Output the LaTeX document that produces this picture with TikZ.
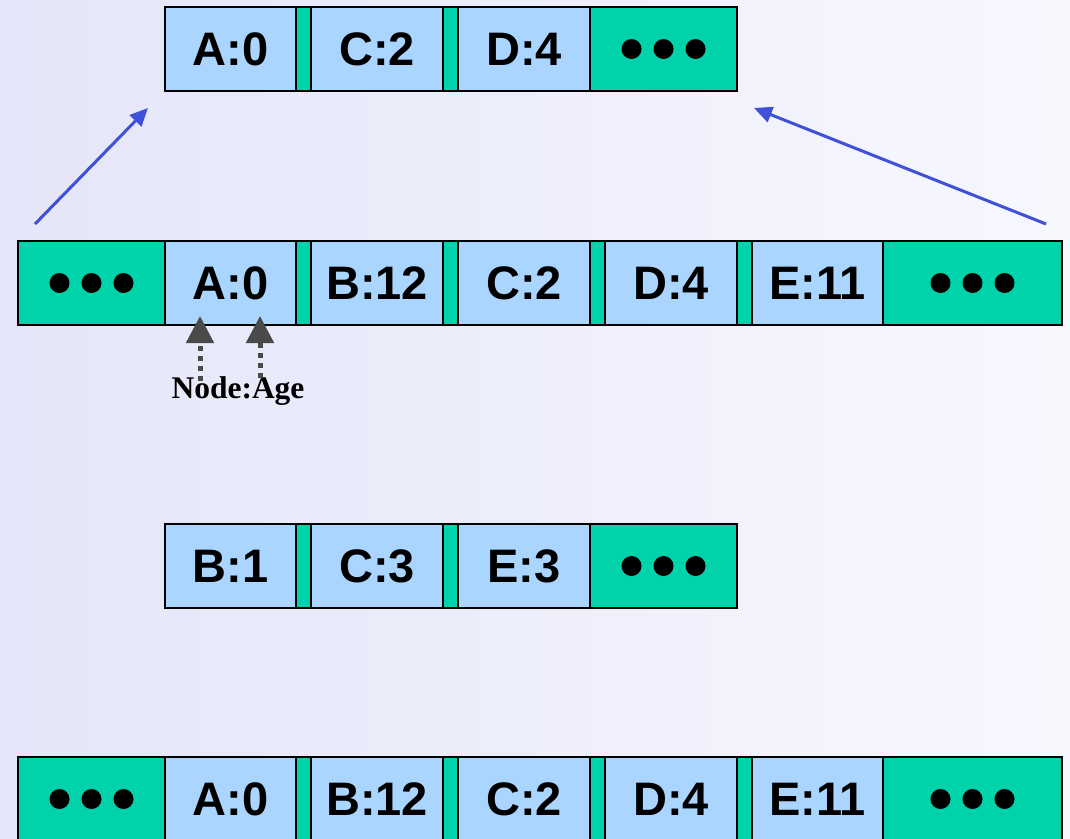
\documentclass[tikz,border=0pt]{standalone}
\usepackage{fontspec}
\newfontfamily\lsans{Liberation Sans}
\newfontfamily\lserif{Liberation Serif}
\usetikzlibrary{arrows.meta}
\definecolor{cellblue}{HTML}{AAD5FF}
\definecolor{tealc}{HTML}{00D3AA}
\definecolor{arrowblue}{HTML}{4050D8}
\definecolor{darkg}{HTML}{4A4A4A}
\definecolor{bgleft}{HTML}{E4E5F8}
\definecolor{bgright}{HTML}{F7F8FE}
\tikzset{
  cellbase/.style={draw=black, line width=2.5pt, minimum height=84pt, inner sep=0pt, outer sep=0pt},
  cell/.style={cellbase, fill=cellblue, font=\lsans\bfseries\fontsize{47}{53}\selectfont},
  sepcell/.style={cellbase, fill=tealc, minimum width=15pt},
  dotcell/.style={cellbase, fill=tealc},
  bluearrow/.style={draw=arrowblue, line width=3pt, -{Triangle[length=18pt,width=16pt]}},
  gagearrow/.style={draw=darkg, line width=5pt, dash pattern=on 5pt off 5pt, -{Triangle[length=27pt,width=27pt]}},
  lbl/.style={font=\lserif\bfseries\fontsize{31.5}{35}\selectfont, inner sep=0pt}
}
\newcommand{\threedots}[1]{%
  \fill ([xshift=-32pt]#1.center) circle (10pt);
  \fill (#1.center) circle (10pt);
  \fill ([xshift=32pt]#1.center) circle (10pt);}
\begin{document}
\begin{tikzpicture}[x=1pt,y=-1pt]
\useasboundingbox (0,0) rectangle (1070,838);
\shade[left color=bgleft, right color=bgright] (0,0) rectangle (1070,838);
\begin{scope}
\clip (0,0) rectangle (1070,838);
% Row 1
\node[cell, minimum width=131pt] (r1a) at (230.5,49) {A:0};
\node[sepcell] (r1s1) at (303.5,49) {};
\node[cell, minimum width=132pt] (r1b) at (377,49) {C:2};
\node[sepcell] (r1s2) at (450.5,49) {};
\node[cell, minimum width=132pt] (r1c) at (524,49) {D:4};
\node[dotcell, minimum width=147pt] (r1d) at (663.5,49) {};
\threedots{r1d}
% Row 2
\node[dotcell, minimum width=147pt] (r2l) at (91.5,283) {};
\threedots{r2l}
\node[cell, minimum width=131pt] (r2a) at (230.5,283) {A:0};
\node[sepcell] (r2s1) at (303.5,283) {};
\node[cell, minimum width=132pt] (r2b) at (377,283) {B:12};
\node[sepcell] (r2s2) at (450.5,283) {};
\node[cell, minimum width=132pt] (r2c) at (524,283) {C:2};
\node[sepcell] (r2s3) at (597.5,283) {};
\node[cell, minimum width=132pt] (r2d) at (671,283) {D:4};
\node[sepcell] (r2s4) at (744.5,283) {};
\node[cell, minimum width=131pt] (r2e) at (817.5,283) {E:11};
\node[dotcell, minimum width=179pt] (r2r) at (972.5,283) {};
\threedots{r2r}
% Row 3
\node[cell, minimum width=131pt] (r3a) at (230.5,566) {B:1};
\node[sepcell] (r3s1) at (303.5,566) {};
\node[cell, minimum width=132pt] (r3b) at (377,566) {C:3};
\node[sepcell] (r3s2) at (450.5,566) {};
\node[cell, minimum width=132pt] (r3c) at (524,566) {E:3};
\node[dotcell, minimum width=147pt] (r3d) at (663.5,566) {};
\threedots{r3d}
% Row 4
\node[dotcell, minimum width=147pt] (r4l) at (91.5,799) {};
\threedots{r4l}
\node[cell, minimum width=131pt] (r4a) at (230.5,799) {A:0};
\node[sepcell] (r4s1) at (303.5,799) {};
\node[cell, minimum width=132pt] (r4b) at (377,799) {B:12};
\node[sepcell] (r4s2) at (450.5,799) {};
\node[cell, minimum width=132pt] (r4c) at (524,799) {C:2};
\node[sepcell] (r4s3) at (597.5,799) {};
\node[cell, minimum width=132pt] (r4d) at (671,799) {D:4};
\node[sepcell] (r4s4) at (744.5,799) {};
\node[cell, minimum width=131pt] (r4e) at (817.5,799) {E:11};
\node[dotcell, minimum width=179pt] (r4r) at (972.5,799) {};
\threedots{r4r}
\end{scope}
% Blue arrows
\coordinate (la0) at (35,224);
\coordinate (la1) at (148,108);
\coordinate (ra0) at (1046,224);
\coordinate (ra1) at (754,108);
\draw[bluearrow] (la0) -- (la1);
\draw[bluearrow] (ra0) -- (ra1);
% Node:Age
\node[lbl] (lab) at (238,391) {Node:Age};
\coordinate (g1s) at (200,381);
\coordinate (g1e) at (200,316);
\coordinate (g2s) at (260,378);
\coordinate (g2e) at (260,316);
\draw[gagearrow] (g1s) -- (g1e);
\draw[gagearrow] (g2s) -- (g2e);
\end{tikzpicture}
\end{document}
